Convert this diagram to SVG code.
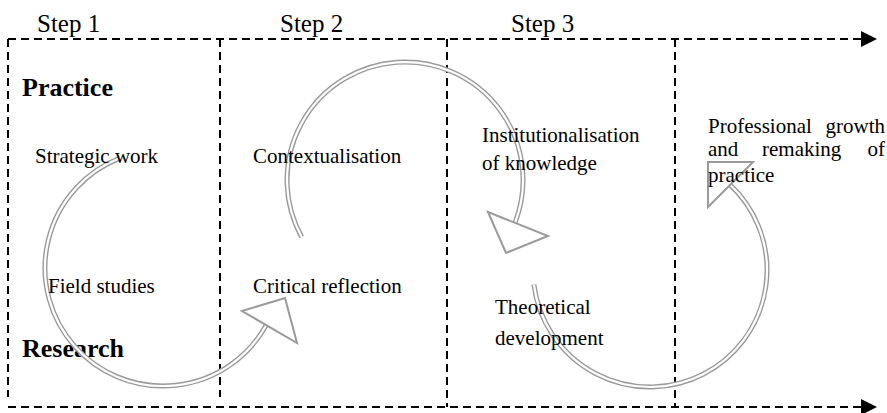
<svg xmlns="http://www.w3.org/2000/svg" width="887" height="413" viewBox="0 0 887 413">
<style>
.dash{fill:none;stroke:#000;stroke-width:2;stroke-dasharray:8 5}
.head{fill:#000}
.step{font-family:"Liberation Serif","Times New Roman",serif;font-size:25px;fill:#000}
.lbl{font-family:"Liberation Serif","Times New Roman",serif;font-size:21px;fill:#000}
.big{font-family:"Liberation Serif","Times New Roman",serif;font-size:26px;font-weight:bold;fill:#000}
.arcO{fill:none;stroke:#9a9a9a;stroke-width:5}
.arcI{fill:none;stroke:#fff;stroke-width:2.2}
.tri{fill:#fff;stroke:#9a9a9a;stroke-width:2;stroke-linejoin:miter}
</style>
<rect width="887" height="413" fill="#fff"/>
<g id="frame">
<path class="dash" d="M8,39 H862"/>
<path class="dash" d="M8,407 H862"/>
<path class="dash" d="M8,39 V397"/>
<path class="dash" d="M220,39 V397"/>
<path class="dash" d="M447,39 V407"/>
<path class="dash" d="M675,39 V407"/>
<polygon class="head" points="861,31 877,39 861,47"/>
<polygon class="head" points="861,399 877,407 861,415"/>
</g>
<g id="steps">
<text class="step" x="37" y="32">Step 1</text>
<text class="step" x="280" y="32">Step 2</text>
<text class="step" x="511" y="32">Step 3</text>
</g>
<g id="axis-labels">
<text class="big" x="22" y="96">Practice</text>
<text class="big" x="22" y="357">Research</text>
</g>
<g id="connectors">
<path class="arcO" d="M120,158.1 A118,118 0 1 0 266.3,325"/>
<path class="arcI" d="M120,158.1 A118,118 0 1 0 266.3,325"/>
<polygon class="tri" points="242,311 285,298 297,343"/>
<path class="arcO" d="M301.7,237 A118,118 0 1 1 515.3,222.1"/>
<path class="arcI" d="M301.7,237 A118,118 0 1 1 515.3,222.1"/>
<polygon class="tri" points="488,212 548,236 506,253"/>
<path class="arcO" d="M533.9,284.5 A117,117 0 1 0 729.1,183.8"/>
<path class="arcI" d="M533.9,284.5 A117,117 0 1 0 729.1,183.8"/>
<polygon class="tri" points="708,162 753,162 708,207"/>
</g>
<g id="strategic-work"><text class="lbl" x="35" y="163">Strategic work</text></g>
<g id="field-studies"><text class="lbl" x="48" y="293">Field studies</text></g>
<g id="contextualisation"><text class="lbl" x="253" y="163">Contextualisation</text></g>
<g id="critical-reflection"><text class="lbl" x="253" y="293">Critical reflection</text></g>
<g id="institutionalisation"><text class="lbl" x="482" y="142">Institutionalisation</text><text class="lbl" x="482" y="170">of knowledge</text></g>
<g id="theoretical-development"><text class="lbl" x="495" y="314">Theoretical</text><text class="lbl" x="495" y="345">development</text></g>
<g id="professional-growth">
<text class="lbl" x="708" y="133">Professional</text>
<text class="lbl" x="885" y="133" text-anchor="end">growth</text>
<text class="lbl" x="708" y="156">and</text>
<text class="lbl" x="762" y="156">remaking</text>
<text class="lbl" x="885" y="156" text-anchor="end">of</text>
<text class="lbl" x="708" y="182">practice</text>
</g>
</svg>
